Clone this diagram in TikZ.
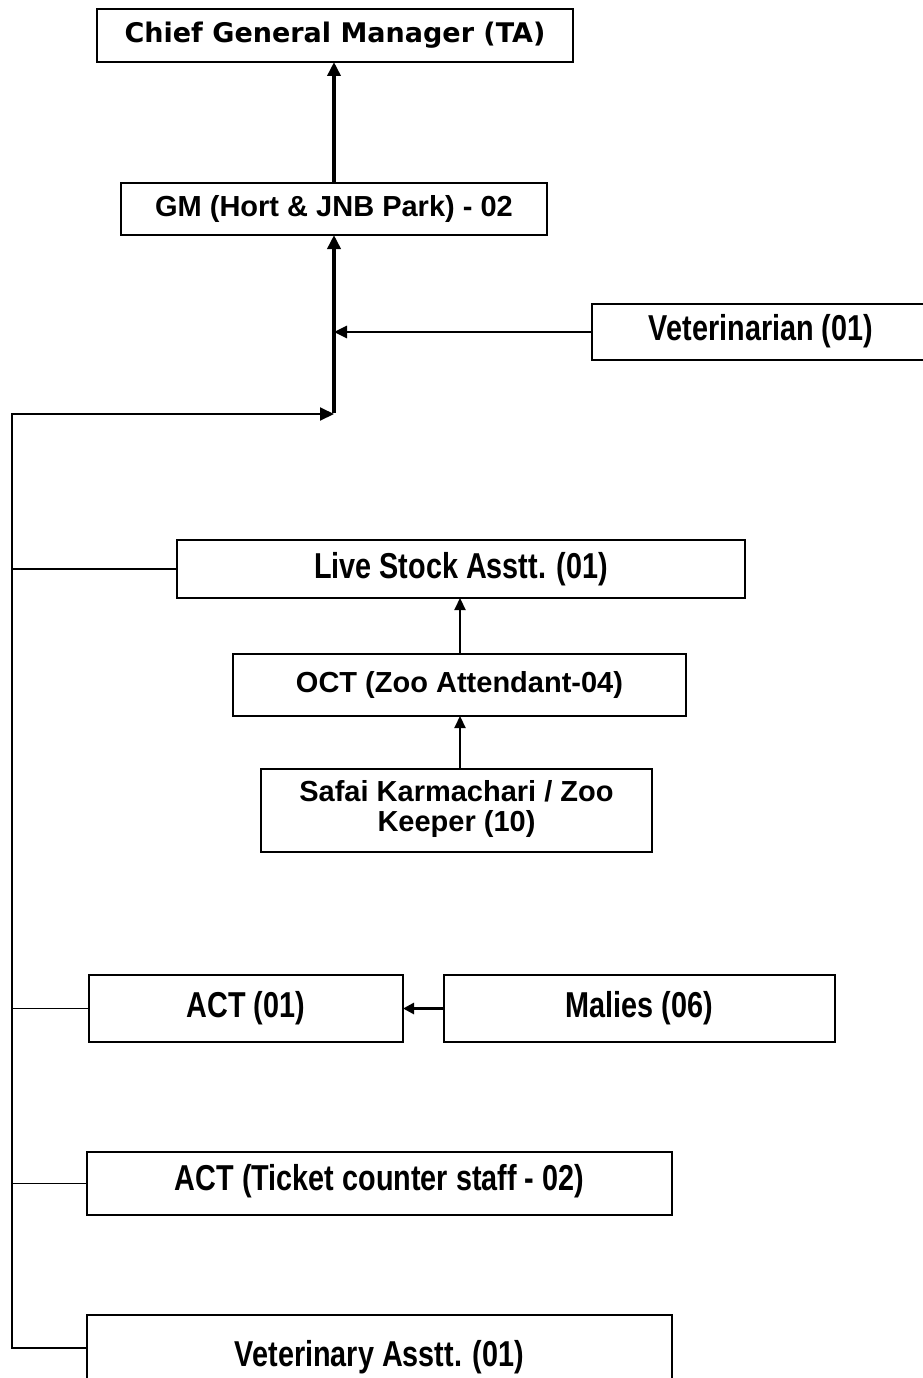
\documentclass[tikz,border=0pt]{standalone}
\usepackage{fontspec}
\setmainfont{Liberation Sans}
\newfontfamily\chieffont{DejaVu Sans}
\newfontfamily\narrowfont{Liberation Sans}[FakeStretch=0.8]
\usetikzlibrary{arrows.meta}
\begin{document}
\begin{tikzpicture}[x=1pt,y=-1pt,
  box/.style={draw=black, line width=1.6pt, inner sep=0pt, outer sep=0pt, align=center,
    font=\fontsize{29}{29}\selectfont\bfseries},
  nbox/.style={box, font=\fontsize{36}{36}\selectfont\narrowfont\bfseries},
  cbox/.style={box, font=\fontsize{27}{30}\selectfont\chieffont\bfseries},
  bigarrow/.style={line width=3.6pt, -{Triangle[length=14pt,width=13pt]}},
  midarrow/.style={line width=2.6pt, -{Triangle[length=13pt,width=12pt]}},
  smallarrow/.style={line width=2.2pt, -{Triangle[length=12pt,width=11pt]}},
  trunk/.style={line width=2pt},
  branch/.style={line width=1.6pt}]
\useasboundingbox (0,0) rectangle (923,1378);
\clip (0,0) rectangle (923,1378);
\fill[white] (0,0) rectangle (923,1378);

% boxes
\node[cbox, minimum width=476, minimum height=53] (chief) at (335,35.5) {\raisebox{-2pt}{Chief General Manager (TA)}};
\node[box, minimum width=426, minimum height=52] (gm) at (334,209) {\raisebox{-2pt}{GM (Hort \& JNB Park) - 02}};
\node[nbox, minimum width=338, minimum height=56] (vet) at (761,332) {\raisebox{9pt}{Veterinarian (01)}};
\node[nbox, minimum width=568, minimum height=58] (ls) at (461,569) {Live Stock Asstt. (01)};
\node[box, minimum width=453, minimum height=62] (oct) at (459.5,685) {\raisebox{-2pt}{OCT (Zoo Attendant-04)}};
\node[box, minimum width=391, minimum height=83] (safai) at (456.5,810.5)
  {\raisebox{-3pt}{\begin{tabular}{@{}c@{}}Safai Karmachari / Zoo\\Keeper (10)\end{tabular}}};
\node[nbox, minimum width=314, minimum height=67] (act) at (246,1008.5) {\raisebox{3pt}{ACT (01)}};
\node[nbox, minimum width=391, minimum height=67] (malies) at (639.5,1008.5) {\raisebox{3pt}{Malies (06)}};
\node[nbox, minimum width=585, minimum height=63] (ticket) at (379.5,1183.5) {\raisebox{13pt}{ACT (Ticket counter staff - 02)}};
\node[nbox, minimum width=585, minimum height=85] (vetasst) at (379.5,1357.5) {\raisebox{8pt}{Veterinary Asstt. (01)}};

% junction coordinates
\coordinate (j) at (334,413);
\coordinate (tl) at (12,414);
\coordinate (tb) at (12,1348);
\coordinate (vaw) at (87,1348);

% connectors
\draw[bigarrow] (gm.north) -- (gm.north |- chief.south);
\draw[bigarrow] (j) -- (j |- gm.south);
\draw[midarrow] (vet.west) -- (vet.west -| j);
\draw[trunk, -{Triangle[length=14pt,width=13pt]}] (vaw) -- (tb) -- (tl) -- (tl -| j);
\draw[branch] (ls.west) -- (ls.west -| tl);
\draw[branch] (act.west) -- (act.west -| tl);
\draw[branch] (ticket.west) -- (ticket.west -| tl);
\draw[smallarrow] (oct.north -| 460,0) -- (ls.south -| 460,0);
\draw[smallarrow] (safai.north -| 460,0) -- (oct.south -| 460,0);
\draw[midarrow, -{Triangle[length=11pt,width=11pt]}] (malies.west) -- (act.east);
\end{tikzpicture}
\end{document}
